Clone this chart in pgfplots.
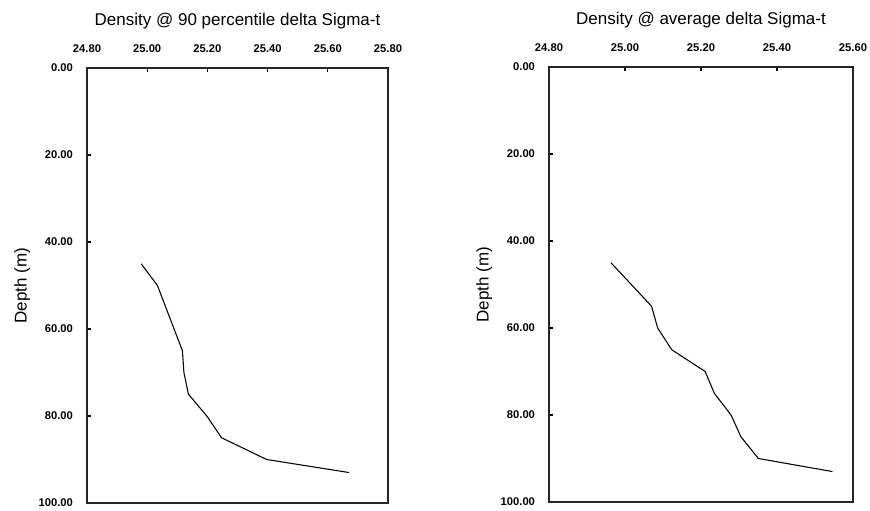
\documentclass[border=0pt]{standalone}
\usepackage{pgfplots}
\pgfplotsset{compat=1.18}
\usepackage{fontspec}
\setmainfont{Liberation Sans}
\pgfplotsset{
  depthax/.style={
    scale only axis,
    height=326.25pt,
    y dir=reverse,
    ymin=0, ymax=100,
    ytick={0,20,40,60,80,100},
    axis line style={line width=0.8pt, black!85},
    xtick pos=upper, ytick pos=left,
    xticklabel pos=upper,
    tick align=inside,
    major tick length=3pt,
    every tick/.style={black, line width=0.8pt},
    /pgf/number format/assume math mode=true,
    /pgf/number format/fixed,
    /pgf/number format/precision=2,
    /pgf/number format/fixed zerofill,
    ticklabel style={font=\bfseries\fontsize{8.4}{10}\selectfont},
    xticklabel style={yshift=8pt},
    yticklabel style={xshift=-7pt},
    title style={at={(0.5,1)}, anchor=base, yshift=26pt, font=\fontsize{12.75}{15}\selectfont},
    ylabel={Depth (m)},
    ylabel style={at={(axis description cs:0,0.5)}, anchor=center, yshift=48.5pt, font=\fontsize{12.75}{15}\selectfont},
  }
}
\pgfplotstableread{
x y
24.98 45
25.034 50
25.117 65
25.122 70
25.137 75
25.198 80
25.247 85
25.397 90
25.671 93
}\ninetypct
\pgfplotstableread{
x y
24.963 45
25.070 55
25.086 60
25.123 65
25.211 70
25.235 75
25.279 80
25.305 85
25.351 90
25.546 93
}\average
\begin{document}
\begin{tikzpicture}
\useasboundingbox (0,0) rectangle (652.5pt,-382.5pt);
\begin{axis}[depthax,
  at={(65.25pt,-51pt)}, anchor=north west,
  width=225.75pt,
  xmin=24.8, xmax=25.8,
  xtick={24.8,25.0,25.2,25.4,25.6,25.8},
  title={Density @ 90 percentile delta Sigma-t}]
\addplot[black, line width=0.8pt, no markers] table[x=x,y=y] {\ninetypct};
\end{axis}
\begin{axis}[depthax,
  at={(411.75pt,-50.25pt)}, anchor=north west,
  width=228pt,
  xmin=24.8, xmax=25.6,
  xtick={24.8,25.0,25.2,25.4,25.6},
  title={Density @ average delta Sigma-t}]
\addplot[black, line width=0.8pt, no markers] table[x=x,y=y] {\average};
\end{axis}
\end{tikzpicture}
\end{document}
